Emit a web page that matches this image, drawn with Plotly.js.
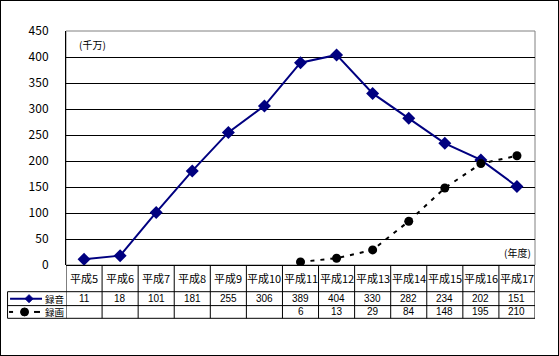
<!DOCTYPE html>
<html><head><meta charset="utf-8">
<script src="https://cdn.plot.ly/plotly-3.0.1.min.js"></script>
<style>
html,body{margin:0;padding:0;background:#fff;}
#wrap{position:relative;width:559px;height:356px;}
#chart{width:559px;height:356px;}
#frame{position:absolute;left:0;top:0;width:559px;height:356px;box-sizing:border-box;border:1px solid #000;pointer-events:none;}
</style></head>
<body>
<div id="wrap"><div id="chart"></div><div id="frame"></div></div>
<script>
const categories = ["平成5","平成6","平成7","平成8","平成9","平成10","平成11","平成12","平成13","平成14","平成15","平成16","平成17"];
const audioName = "録音";
const videoName = "録画";
const audio = [11,18,101,181,255,306,389,404,330,282,234,202,151];
const video = [null,null,null,null,null,null,6,13,29,84,148,195,210];
const unitLabel = "(千万)";
const yearLabel = "(年度)";

const FONT = '"Noto Sans CJK JP", "DejaVu Sans", sans-serif';
const NUMFONT = '"Liberation Sans", Arial, sans-serif';
const idx = categories.map((_, i) => i);

// plot area geometry in px (for paper-unit conversion)
const L = 66, R = 535.5, T = 31, B = 265;
const W = R - L, H = B - T;
const py = p => (B - p) / H;
const px = p => (p - L) / W;

const rowTop = 291.7, rowMid = 305.6, rowBot = 318.3;

const traces = [
  {x: idx, y: audio, type: 'scatter', mode: 'lines+markers', name: audioName,
   line: {color: '#000080', width: 2}, marker: {symbol: 'diamond', size: 10, color: '#000080'}},
  {x: idx, y: video, type: 'scatter', mode: 'lines+markers', name: videoName,
   line: {color: '#000000', width: 2, dash: '4px,6px'}, marker: {symbol: 'circle', size: 9, color: '#000000'}}
];

const shapes = [];
const annotations = [];
// plot area border (gray top/right)
shapes.push({type: 'rect', xref: 'paper', yref: 'paper', x0: 0, x1: 1, y0: 0, y1: 1, line: {color: '#808080', width: 1}, layer: 'below'});
// table horizontal lines
[rowTop, rowMid, rowBot].forEach(v => {
  shapes.push({type: 'line', xref: 'paper', yref: 'paper', x0: px(7.5), x1: 1, y0: py(v), y1: py(v), line: {color: '#000', width: 1}});
});
// table vertical lines
for (let k = 0; k <= categories.length; k++) {
  shapes.push({type: 'line', xref: 'x', yref: 'paper', x0: k - 0.5, x1: k - 0.5, y0: 0, y1: py(rowBot), line: {color: '#000', width: 1}});
}
shapes.push({type: 'line', xref: 'paper', yref: 'paper', x0: px(7.5), x1: px(7.5), y0: py(rowTop), y1: py(rowBot), line: {color: '#000', width: 1}});
// legend keys
const r1 = (rowTop + rowMid) / 2, r2 = (rowMid + rowBot) / 2;
shapes.push({type: 'line', xref: 'paper', yref: 'paper', x0: px(10), x1: px(42), y0: py(r1), y1: py(r1), line: {color: '#000080', width: 2}});
shapes.push({type: 'path', xref: 'paper', yref: 'paper',
  path: `M ${px(25)} ${py(r1)} L ${px(29)} ${py(r1-4)} L ${px(33)} ${py(r1)} L ${px(29)} ${py(r1+4)} Z`,
  fillcolor: '#000080', line: {color: '#000080', width: 1}});
shapes.push({type: 'line', xref: 'paper', yref: 'paper', x0: px(9), x1: px(13), y0: py(r2), y1: py(r2), line: {color: '#000', width: 2}});
shapes.push({type: 'line', xref: 'paper', yref: 'paper', x0: px(34), x1: px(40), y0: py(r2), y1: py(r2), line: {color: '#000', width: 2}});
shapes.push({type: 'circle', xref: 'paper', yref: 'paper', x0: px(20.5), x1: px(28.5), y0: py(r2 - 4), y1: py(r2 + 4), fillcolor: '#000', line: {color: '#000', width: 1}});
annotations.push({xref: 'paper', yref: 'paper', x: px(43), y: py(r1), xanchor: 'left', yanchor: 'middle', text: audioName, showarrow: false, font: {family: FONT, size: 9.5, color: '#000'}});
annotations.push({xref: 'paper', yref: 'paper', x: px(43), y: py(r2), xanchor: 'left', yanchor: 'middle', text: videoName, showarrow: false, font: {family: FONT, size: 9.5, color: '#000'}});

categories.forEach((c, i) => {
  annotations.push({xref: 'x', yref: 'paper', x: i, y: py((B + rowTop) / 2), text: c, showarrow: false, xanchor: 'center', yanchor: 'middle', font: {family: FONT, size: 11, color: '#000'}});
  if (audio[i] !== null) annotations.push({xref: 'x', yref: 'paper', x: i, y: py(r1), text: String(audio[i]), showarrow: false, xanchor: 'center', yanchor: 'middle', font: {family: NUMFONT, size: 10, color: '#000'}});
  if (video[i] !== null) annotations.push({xref: 'x', yref: 'paper', x: i, y: py(r2), text: String(video[i]), showarrow: false, xanchor: 'center', yanchor: 'middle', font: {family: NUMFONT, size: 10, color: '#000'}});
});
annotations.push({xref: 'paper', yref: 'paper', x: px(77), y: py(44), xanchor: 'left', yanchor: 'middle', text: unitLabel, showarrow: false, font: {family: FONT, size: 10, color: '#000'}});
annotations.push({xref: 'paper', yref: 'paper', x: px(533), y: py(252), xanchor: 'right', yanchor: 'middle', text: yearLabel, showarrow: false, font: {family: FONT, size: 10, color: '#000'}});

const layout = {
  width: 559, height: 356,
  margin: {l: L, r: 559 - R, t: T, b: 356 - B, pad: 0},
  paper_bgcolor: '#fff', plot_bgcolor: '#fff',
  showlegend: false,
  xaxis: {range: [-0.5, categories.length - 0.5], showgrid: false, zeroline: false, showticklabels: false, ticks: '', showline: false, fixedrange: true},
  yaxis: {range: [0, 450], dtick: 50, tick0: 0, showgrid: true, gridcolor: '#000', gridwidth: 1, zeroline: true, zerolinecolor: '#000', zerolinewidth: 1,
          showline: true, linecolor: '#000', linewidth: 1, ticks: '', ticklabelstandoff: 14,
          tickfont: {family: FONT, size: 12, color: '#000'}, fixedrange: true},
  shapes: shapes,
  annotations: annotations
};
Plotly.newPlot('chart', traces, layout, {displayModeBar: false, staticPlot: true});
</script>
</body></html>
